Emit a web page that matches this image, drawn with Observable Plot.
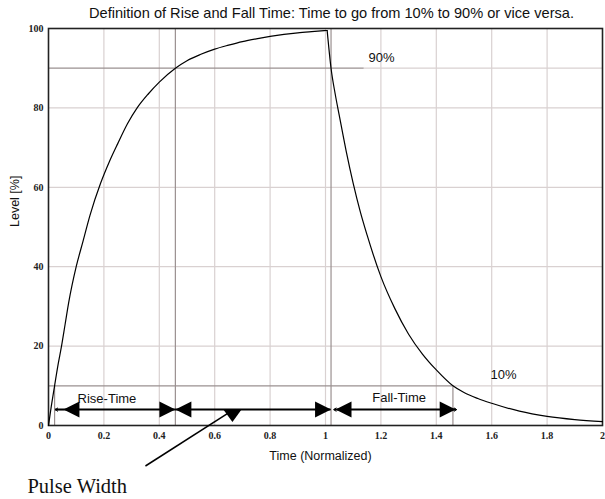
<!DOCTYPE html>
<html><head><meta charset="utf-8">
<script src="https://cdn.jsdelivr.net/npm/d3@7"></script>
<script src="https://cdn.jsdelivr.net/npm/@observablehq/plot@0.6"></script>
<style>body{margin:0;background:#fff} #chart svg{display:block}</style>
</head><body><div id="chart"></div><script>
// ---- data ----
const riseTime  = [0, 0.01, 0.022, 0.035, 0.047, 0.06, 0.073, 0.1, 0.125, 0.15, 0.188, 0.22, 0.25, 0.285, 0.32, 0.36, 0.4, 0.458, 0.5, 0.55, 0.6, 0.65, 0.7, 0.75, 0.8, 0.85, 0.9, 0.95, 1.006];
const riseLevel = [0, 4.8, 10, 15.5, 20, 25.5, 31, 40, 46.5, 53, 61, 66.5, 71, 76, 80, 83.5, 86.5, 90, 91.9, 93.5, 94.8, 95.8, 96.7, 97.4, 98.0, 98.5, 98.9, 99.2, 99.5];
const fallTime  = [1.006, 1.02, 1.035, 1.05, 1.075, 1.1, 1.125, 1.15, 1.2, 1.25, 1.3, 1.35, 1.4, 1.46, 1.5, 1.55, 1.6, 1.7, 1.8, 1.9, 2.0];
const fallLevel = [99.5, 90, 83.5, 78, 69, 61, 54, 48, 37.5, 29.5, 23, 18, 14, 10, 8.3, 6.8, 5.6, 3.6, 2.3, 1.5, 1.0];

const xTicks = [0, 0.2, 0.4, 0.6, 0.8, 1, 1.2, 1.4, 1.6, 1.8, 2];
const xTickLabels = ["0", "0.2", "0.4", "0.6", "0.8", "1", "1.2", "1.4", "1.6", "1.8", "2"];
const yTicks = [0, 20, 40, 60, 80, 100];
const yTickLabels = ["0", "20", "40", "60", "80", "100"];
const xGrid = [0.2, 0.4, 0.6, 0.8, 1, 1.2, 1.4, 1.6, 1.8];
const yGrid = [20, 40, 60, 80];

// 10% / 90% reference markers
const refLevels = [90, 10];
const refLevelEnds = [1.14, 1.46];
const crossTimes = [0.022, 0.458, 1.02, 1.46];
const crossTops = [10, 100, 100, 10];

// arrows
const arrowLevel = 4;
const shaftStarts = [0.025, 0.458, 1.034];
const shaftEnds = [0.458, 1.02, 1.473];
const headTimes = [0.054, 0.458, 0.458, 1.02, 1.036, 1.47];
const headDirs = ["left", "right", "left", "right", "left", "right"];
const openHeadTimes = [0.025, 1.03, 1.473];
const openHeadDirs = ["left", "left", "right"];
const pointerTipTime = 0.664, pointerTipLevel = 0.9;
const pointerFromTime = 0.350, pointerFromLevel = -10.2;
const pointerToTime = 0.657, pointerToLevel = 3.5;

// texts
const titleText = "Definition of Rise and Fall Time: Time to go from 10% to 90% or vice versa.";
const xLabel = "Time (Normalized)";
const yLabel = "Level [%]";
const noteLabels = ["90%", "10%", "Rise-Time", "Fall-Time"];
const noteTimes = [1.155, 1.596, 0.105, 1.169];
const noteLevels = [92.5, 12.7, 6.7, 6.9];
const pulseText = "Pulse Width";
const pulseTime = -0.076, pulseLevel = -17;

// ---- build ----
const rise = riseTime.map((t, i) => ({t, v: riseLevel[i]}));
const fall = fallTime.map((t, i) => ({t, v: fallLevel[i]}));

const L = 16, HH = 8;
const symbols = {
  right: {draw(c) { c.moveTo(0, 0); c.lineTo(-L, -HH); c.lineTo(-L, HH); c.closePath(); }},
  left:  {draw(c) { c.moveTo(0, 0); c.lineTo(L, -HH); c.lineTo(L, HH); c.closePath(); }},
  down:  {draw(c) { c.moveTo(0, 0); c.lineTo(-9.5, -13); c.lineTo(9.5, -13); c.closePath(); }}
};

const sans = "Liberation Sans, Arial, sans-serif";
const serif = "Liberation Serif, Times New Roman, serif";
const dark = "#9a9090";
const light = "#d9d1d1";

const heads = headTimes.map((t, i) => ({t, dir: headDirs[i]}));
const openHeads = openHeadTimes.map((t, i) => ({t, x1: openHeadDirs[i] === "left" ? t + 0.03 : t - 0.03}));

const chart = Plot.plot({
  width: 605, height: 499,
  marginTop: 28, marginBottom: 74, marginLeft: 48, marginRight: 3,
  x: {domain: [0, 2]},
  y: {domain: [0, 100]},
  style: {background: "#fff", color: "#000"},
  marks: [
    Plot.ruleX(xGrid, {stroke: light, strokeWidth: 1.2}),
    Plot.ruleY(yGrid, {stroke: light, strokeWidth: 1.2}),
    Plot.ruleY(refLevels, {y: d => d, x1: 0, x2: (d, i) => refLevelEnds[i], stroke: dark, strokeWidth: 1.2}),
    Plot.ruleY(refLevels, {y: d => d, x1: (d, i) => refLevelEnds[i], x2: 2, stroke: light, strokeWidth: 1.2}),
    Plot.ruleX(crossTimes, {x: d => d, y1: 0, y2: (d, i) => crossTops[i], stroke: dark, strokeWidth: 1.2}),
    Plot.frame({stroke: "#222", strokeWidth: 1.6}),
    Plot.axisX(xTicks, {tickSize: 0, tickPadding: 6, label: null, tickFormat: d => xTickLabels[xTicks.indexOf(d)],
      fontFamily: serif, fontSize: 10, fontWeight: "bold", fill: "#222"}),
    Plot.axisY(yTicks, {tickSize: 0, tickPadding: 5, label: null, tickFormat: d => yTickLabels[yTicks.indexOf(d)],
      fontFamily: serif, fontSize: 10, fontWeight: "bold", fill: "#222"}),
    Plot.line(rise, {x: "t", y: "v", stroke: "#000", strokeWidth: 1.2, curve: "monotone-x"}),
    Plot.line(fall, {x: "t", y: "v", stroke: "#000", strokeWidth: 1.2, curve: "monotone-x"}),
    // arrows
    Plot.ruleY(shaftStarts, {y: arrowLevel, x1: d => d, x2: (d, i) => shaftEnds[i], stroke: "#000", strokeWidth: 2}),
    Plot.arrow(openHeads, {x1: "x1", x2: "t", y1: arrowLevel, y2: arrowLevel, stroke: "#000", strokeWidth: 1, headLength: 7, headAngle: 70}),
    ...["left", "right"].map(dir => Plot.dot(heads.filter(h => h.dir === dir), {x: "t", y: arrowLevel, r: 5, symbol: symbols[dir], fill: "#000", stroke: "none"})),
    Plot.dot([pointerTipTime], {x: d => d, y: pointerTipLevel, r: 5, symbol: symbols.down, fill: "#000", stroke: "none"}),
    Plot.link([0], {x1: pointerFromTime, y1: pointerFromLevel, x2: pointerToTime, y2: pointerToLevel, stroke: "#000", strokeWidth: 1.5}),
    // texts
    Plot.text(noteLabels, {x: (d, i) => noteTimes[i], y: (d, i) => noteLevels[i], text: d => d, textAnchor: "start", lineAnchor: "middle", fontFamily: sans, fontSize: 13, fill: "#111"}),
    Plot.text([pulseText], {x: pulseTime, y: pulseLevel, text: d => d, textAnchor: "start", lineAnchor: "bottom", fontFamily: serif, fontSize: 20.5, fill: "#111"}),
    Plot.text([titleText], {frameAnchor: "top", dy: -15, dx: 6, lineAnchor: "middle", text: d => d, fontFamily: sans, fontSize: 14.6, fill: "#111"}),
    Plot.text([xLabel], {frameAnchor: "bottom", dy: 30, dx: -5, lineAnchor: "middle", text: d => d, fontFamily: sans, fontSize: 12.5, fill: "#111"}),
    Plot.text([yLabel], {frameAnchor: "left", dx: -34, rotate: -90, lineAnchor: "middle", text: d => d, fontFamily: sans, fontSize: 12.5, fill: "#111"})
  ]
});
document.getElementById("chart").append(chart);
</script></body></html>
